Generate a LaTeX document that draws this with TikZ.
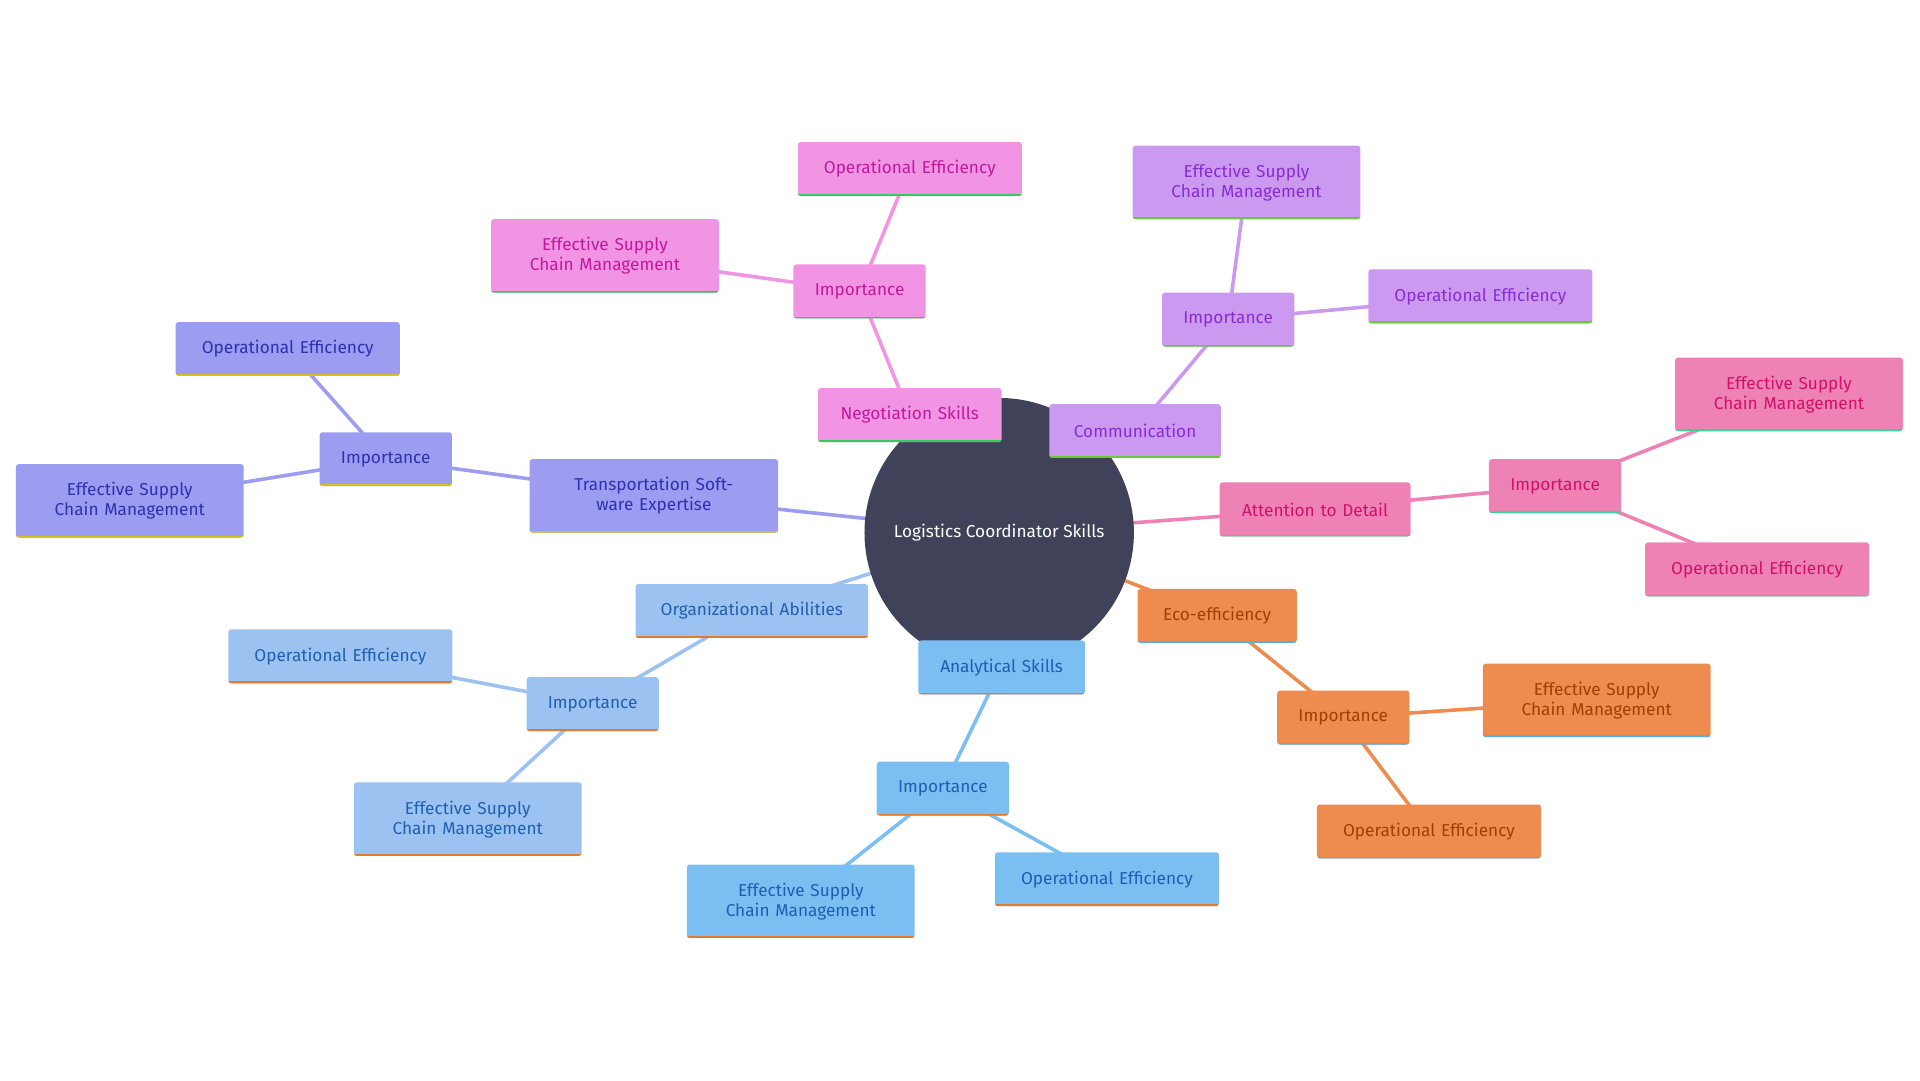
\documentclass[tikz,border=0pt]{standalone}
\usepackage{fontspec}
\setmainfont{Fira Sans}
\usetikzlibrary{backgrounds}
\definecolor{rootc}{HTML}{3F4259}
\definecolor{negf}{HTML}{F294E4}\definecolor{negt}{HTML}{C0199E}\definecolor{negb}{HTML}{33CC55}
\definecolor{comf}{HTML}{CB9AF0}\definecolor{comt}{HTML}{8A2BD2}\definecolor{comb}{HTML}{66CC33}
\definecolor{attf}{HTML}{EE82B4}\definecolor{attt}{HTML}{D0106A}\definecolor{attb}{HTML}{33D699}
\definecolor{ecof}{HTML}{EE8C50}\definecolor{ecot}{HTML}{A33D00}\definecolor{ecob}{HTML}{55AEE8}
\definecolor{anaf}{HTML}{7BBFF2}\definecolor{anat}{HTML}{1A60B0}\definecolor{anab}{HTML}{E07B30}
\definecolor{orgf}{HTML}{9BC2F0}\definecolor{orgt}{HTML}{2060B0}\definecolor{orgb}{HTML}{E07B30}
\definecolor{traf}{HTML}{9C9CF0}\definecolor{trat}{HTML}{3030B0}\definecolor{trab}{HTML}{D4C020}
\tikzset{
  mm/.style n args={3}{rectangle, rounded corners=2pt, fill=#1, text=#2, align=center,
    inner sep=0pt, minimum height=1.32cm, font=\large, text width=5cm,
    path picture={\draw[line width=2.5pt,#3]
      (path picture bounding box.south west) -- (path picture bounding box.south east);}},
  neg/.style={mm={negf}{negt}{negb}}, com/.style={mm={comf}{comt}{comb}},
  att/.style={mm={attf}{attt}{attb}}, eco/.style={mm={ecof}{ecot}{ecob}},
  ana/.style={mm={anaf}{anat}{anab}}, org/.style={mm={orgf}{orgt}{orgb}},
  tra/.style={mm={traf}{trat}{trab}},
  w/.style={minimum width=#1*0.03cm, text width=#1*0.03cm-0.3cm},
  tall/.style={minimum height=1.8cm},
  link/.style={line width=2.5pt, draw=#1}
}
\begin{document}
\begin{tikzpicture}[x=0.03cm, y=-0.03cm]
\useasboundingbox (0,0) rectangle (1568,882);
\node[circle, fill=rootc, text=white, minimum size=6.6cm, font=\large] (root) at (816,435) {Logistics Coordinator Skills};

% negotiation
\node[neg, w=150] (neg) at (743,339) {Negotiation Skills};
\node[neg, w=108] (negI) at (702,238) {Importance};
\node[neg, w=183] (negOE) at (743,138) {Operational Efficiency};
\node[neg, w=186, tall] (negESC) at (494,209) {Effective Supply Chain Management};
% communication
\node[com, w=140] (com) at (927,352) {Communication};
\node[com, w=108] (comI) at (1003,261) {Importance};
\node[com, w=186, tall] (comESC) at (1018,149) {Effective Supply Chain Management};
\node[com, w=183] (comOE) at (1209,242) {Operational Efficiency};
% attention
\node[att, w=156] (att) at (1074,416) {Attention to Detail};
\node[att, w=108] (attI) at (1270,397) {Importance};
\node[att, w=186, tall] (attESC) at (1461,322) {Effective Supply Chain Management};
\node[att, w=183] (attOE) at (1435,465) {Operational Efficiency};
% eco
\node[eco, w=130] (eco) at (994,503) {Eco-efficiency};
\node[eco, w=108] (ecoI) at (1097,586) {Importance};
\node[eco, w=186, tall] (ecoESC) at (1304,572) {Effective Supply Chain Management};
\node[eco, w=183] (ecoOE) at (1167,679) {Operational Efficiency};
% analytical
\node[ana, w=136] (ana) at (818,545) {Analytical Skills};
\node[ana, w=108] (anaI) at (770,644) {Importance};
\node[ana, w=186, tall] (anaESC) at (654,736) {Effective Supply Chain Management};
\node[ana, w=183] (anaOE) at (904,718) {Operational Efficiency};
% organizational
\node[org, w=190] (org) at (614,499) {Organizational Abilities};
\node[org, w=108] (orgI) at (484,575) {Importance};
\node[org, w=183] (orgOE) at (278,536) {Operational Efficiency};
\node[org, w=186, tall] (orgESC) at (382,669) {Effective Supply Chain Management};
% transportation
\node[tra, w=203, tall] (tra) at (534,405) {Transportation Software Expertise};
\node[tra, w=108] (traI) at (315,375) {Importance};
\node[tra, w=183] (traOE) at (235,285) {Operational Efficiency};
\node[tra, w=186, tall] (traESC) at (106,409) {Effective Supply Chain Management};

\begin{scope}[on background layer]
\draw[link=negf] (root.center) -- (neg.center) -- (negI.center) -- (negOE.center);
\draw[link=negf] (negI.center) -- (negESC.center);
\draw[link=comf] (root.center) -- (com.center) -- (comI.center) -- (comESC.center);
\draw[link=comf] (comI.center) -- (comOE.center);
\draw[link=attf] (root.center) -- (att.center) -- (attI.center) -- (attESC.center);
\draw[link=attf] (attI.center) -- (attOE.center);
\draw[link=ecof] (root.center) -- (eco.center) -- (ecoI.center) -- (ecoESC.center);
\draw[link=ecof] (ecoI.center) -- (ecoOE.center);
\draw[link=anaf] (root.center) -- (ana.center) -- (anaI.center) -- (anaESC.center);
\draw[link=anaf] (anaI.center) -- (anaOE.center);
\draw[link=orgf] (root.center) -- (org.center) -- (orgI.center) -- (orgOE.center);
\draw[link=orgf] (orgI.center) -- (orgESC.center);
\draw[link=traf] (root.center) -- (tra.center) -- (traI.center) -- (traOE.center);
\draw[link=traf] (traI.center) -- (traESC.center);
\end{scope}
\end{tikzpicture}
\end{document}
